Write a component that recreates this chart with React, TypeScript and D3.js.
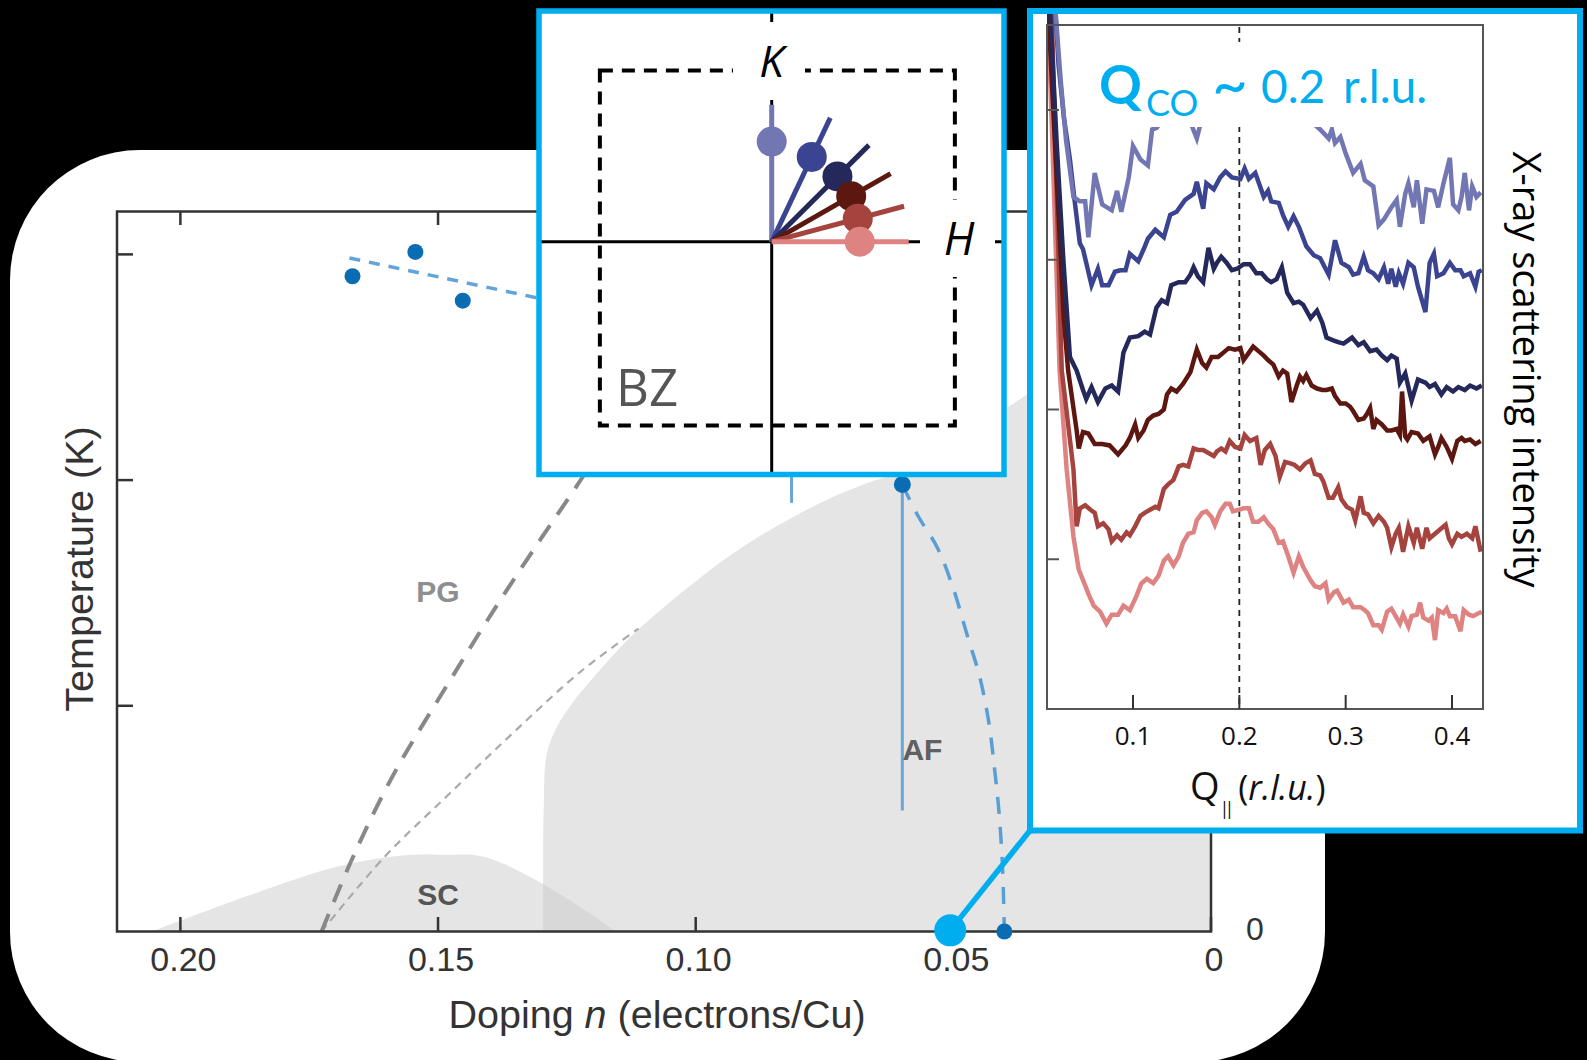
import React from 'react';
import * as d3 from 'd3';

type Pt = [number, number];

const W = 1587;
const H = 1060;

// ---------- phase diagram (doping n, temperature in K)
const dopingTicks = [0.2, 0.15, 0.1, 0.05, 0];
const dopingLabels = ['0.20', '0.15', '0.10', '0.05', '0'];
const tempTicks = [100, 200, 300];

const scDome: Pt[] = [[0.2055, 0], [0.1873, 15.5], [0.1691, 29], [0.157, 33.7], [0.1475, 34], [0.1423, 33.7], [0.1371, 29.8], [0.1267, 17.1], [0.1154, 0]];
const afRegion: Pt[] = [[0.1296, 0], [0.1296, 30], [0.1295, 54], [0.1289, 78.6], [0.1269, 90.7], [0.124, 101], [0.1191, 114.5], [0.1132, 129.3], [0.1073, 141.4], [0.1014, 152.6], [0.0945, 164.7], [0.0877, 175], [0.0808, 184], [0.0739, 192], [0.0671, 198.4], [0.0602, 203.8], [0.0494, 217.6], [0.0387, 233.4], [0.02, 262], [0, 290]];
const pgThick: Pt[] = [[0.1726, 0], [0.1665, 33], [0.1587, 69.3], [0.1483, 108.9], [0.1388, 143.7], [0.1301, 173.8], [0.1249, 191.2], [0.118, 215]];
const pgThin: Pt[] = [[0.1726, 0], [0.1604, 33], [0.1483, 59.9], [0.1353, 88.3], [0.1223, 115.2], [0.1111, 134.2]];
const highTDots: Pt[] = [[0.1666, 290.3], [0.1544, 301.1], [0.1452, 279.5]];
const highTFit: Pt[] = [[0.1672, 298.4], [0.1338, 282.2], [0.12, 275.5]];
const afDashed: Pt[] = [[0.0599, 198], [0.0569, 184.3], [0.0531, 170], [0.0501, 152.6], [0.0472, 130.4], [0.0449, 113], [0.0431, 92.4], [0.042, 71.9], [0.0412, 54.5], [0.0405, 30.7], [0.0401, 0]];
const afBar: Pt[] = [[0.0599, 198], [0.0599, 53.6]];
const hiddenBar: Pt[] = [[0.0814, 300], [0.0814, 189.9]];
const lowDot: Pt = [0.0401, 0];
const rixsDot: Pt = [0.0506, 0.5];
const regionNames = ['PG', 'SC', 'AF'];
const regionAt: Pt[] = [[0.15, 150.9], [0.15, 16.6], [0.056, 80.6]];
const regionColors = ['#8e8e8e', '#555555', '#606060'];

// ---------- Brillouin zone inset (r.l.u.)
const bzH: Pt = [-0.484, 0.516];
const bzK: Pt = [-0.518, 0.482];
const vecAngle = [90, 64.7, 44.8, 29.8, 15, 0];
const vecDot = [0.282, 0.264, 0.261, 0.258, 0.251, 0.248];
const vecEnd = 0.386;
const scanColors = ['#7276b3', '#3a4490', '#25285a', '#5c1810', '#a5443f', '#df8282'];

// ---------- RIXS spectra (Q r.l.u., offset intensity)
const qTicks = [0.1, 0.2, 0.3, 0.4];
const intensityTicks = [0, 1, 2, 3, 4];
const qCO = 0.2;

const scanLavender: Pt[] = [[0.027, 4.67], [0.032, 4.2], [0.037, 3.8], [0.044, 3.42], [0.05, 3.39], [0.055, 3.39], [0.058, 3.15], [0.064, 3.58], [0.071, 3.37], [0.08, 3.33], [0.085, 3.46], [0.089, 3.32], [0.096, 3.55], [0.1, 3.76], [0.107, 3.67], [0.114, 3.63], [0.118, 3.87], [0.122, 3.88], [0.13, 3.95], [0.14, 4.0], [0.15, 3.98], [0.155, 3.9], [0.16, 3.81], [0.165, 3.95], [0.18, 4.05], [0.2, 4.1], [0.22, 4.08], [0.24, 4.05], [0.26, 3.98], [0.271, 3.9], [0.276, 3.87], [0.284, 3.81], [0.287, 3.87], [0.29, 3.78], [0.295, 3.82], [0.3, 3.71], [0.307, 3.58], [0.314, 3.64], [0.318, 3.53], [0.326, 3.49], [0.331, 3.23], [0.336, 3.27], [0.343, 3.35], [0.348, 3.4], [0.351, 3.22], [0.356, 3.44], [0.359, 3.51], [0.364, 3.35], [0.367, 3.53], [0.372, 3.24], [0.376, 3.47], [0.383, 3.46], [0.387, 3.35], [0.392, 3.51], [0.398, 3.68], [0.401, 3.37], [0.406, 3.33], [0.409, 3.42], [0.412, 3.58], [0.416, 3.33], [0.419, 3.49], [0.423, 3.42], [0.427, 3.45]];
const scanBlue: Pt[] = [[0.025, 4.9], [0.03, 4.3], [0.035, 3.95], [0.0407, 3.67], [0.045, 3.4], [0.05, 3.11], [0.053, 3.07], [0.061, 2.83], [0.067, 2.94], [0.071, 2.83], [0.077, 2.83], [0.083, 2.92], [0.088, 2.93], [0.093, 2.93], [0.097, 3.04], [0.105, 2.99], [0.11, 3.07], [0.114, 3.14], [0.121, 3.2], [0.129, 3.15], [0.135, 3.3], [0.141, 3.32], [0.149, 3.4], [0.157, 3.44], [0.16, 3.52], [0.166, 3.34], [0.169, 3.51], [0.176, 3.47], [0.182, 3.55], [0.187, 3.59], [0.193, 3.55], [0.201, 3.54], [0.205, 3.61], [0.209, 3.54], [0.215, 3.58], [0.223, 3.42], [0.227, 3.46], [0.23, 3.39], [0.237, 3.38], [0.241, 3.3], [0.246, 3.22], [0.251, 3.29], [0.256, 3.22], [0.263, 3.09], [0.27, 3.03], [0.276, 3.01], [0.284, 2.9], [0.29, 3.13], [0.296, 2.98], [0.303, 2.95], [0.307, 2.9], [0.312, 2.91], [0.317, 3.02], [0.321, 2.93], [0.326, 2.91], [0.331, 2.87], [0.336, 2.95], [0.34, 2.84], [0.343, 2.94], [0.347, 2.82], [0.35, 2.91], [0.354, 2.84], [0.359, 2.98], [0.364, 2.95], [0.368, 2.82], [0.375, 2.65], [0.379, 2.98], [0.383, 3.04], [0.386, 2.89], [0.392, 2.91], [0.398, 2.98], [0.403, 2.93], [0.408, 2.93], [0.411, 2.89], [0.417, 2.91], [0.422, 2.82], [0.425, 2.92], [0.428, 2.93]];
const scanNavy: Pt[] = [[0.022, 4.67], [0.0282, 3.78], [0.0345, 3.0], [0.0407, 2.35], [0.047, 2.26], [0.053, 2.13], [0.056, 2.07], [0.061, 2.15], [0.067, 2.05], [0.074, 2.14], [0.08, 2.16], [0.086, 2.12], [0.091, 2.38], [0.097, 2.48], [0.105, 2.49], [0.111, 2.52], [0.116, 2.5], [0.122, 2.68], [0.127, 2.73], [0.132, 2.71], [0.136, 2.83], [0.143, 2.85], [0.149, 2.85], [0.154, 2.9], [0.157, 2.95], [0.161, 2.89], [0.166, 2.85], [0.171, 3.08], [0.176, 2.94], [0.179, 2.98], [0.183, 3.02], [0.188, 2.98], [0.193, 2.93], [0.198, 2.94], [0.204, 2.97], [0.21, 2.97], [0.216, 2.91], [0.221, 2.91], [0.226, 2.87], [0.23, 2.85], [0.235, 2.87], [0.24, 2.95], [0.245, 2.78], [0.251, 2.71], [0.256, 2.72], [0.26, 2.7], [0.267, 2.61], [0.273, 2.66], [0.278, 2.58], [0.282, 2.48], [0.289, 2.46], [0.293, 2.45], [0.298, 2.44], [0.306, 2.48], [0.312, 2.43], [0.317, 2.45], [0.323, 2.39], [0.329, 2.4], [0.334, 2.36], [0.339, 2.33], [0.343, 2.36], [0.348, 2.34], [0.351, 2.18], [0.356, 2.24], [0.362, 2.06], [0.368, 2.2], [0.375, 2.18], [0.379, 2.15], [0.384, 2.17], [0.39, 2.1], [0.395, 2.15], [0.401, 2.12], [0.406, 2.15], [0.412, 2.13], [0.417, 2.16], [0.423, 2.14], [0.428, 2.16]];
const scanDarkRed: Pt[] = [[0.0203, 4.67], [0.0298, 3.33], [0.035, 2.6], [0.039, 2.26], [0.047, 1.86], [0.049, 1.74], [0.053, 1.85], [0.058, 1.84], [0.064, 1.77], [0.071, 1.77], [0.078, 1.76], [0.086, 1.7], [0.093, 1.76], [0.097, 1.81], [0.102, 1.9], [0.105, 1.81], [0.11, 1.86], [0.114, 1.93], [0.119, 1.96], [0.124, 1.97], [0.129, 2.0], [0.132, 2.1], [0.136, 2.14], [0.141, 2.12], [0.147, 2.17], [0.154, 2.25], [0.16, 2.4], [0.165, 2.31], [0.169, 2.28], [0.174, 2.35], [0.18, 2.35], [0.185, 2.38], [0.19, 2.41], [0.196, 2.4], [0.201, 2.41], [0.204, 2.33], [0.209, 2.38], [0.213, 2.42], [0.218, 2.39], [0.223, 2.36], [0.227, 2.33], [0.232, 2.3], [0.237, 2.22], [0.241, 2.26], [0.245, 2.24], [0.249, 2.05], [0.254, 2.16], [0.257, 2.22], [0.26, 2.19], [0.263, 2.23], [0.268, 2.16], [0.273, 2.14], [0.278, 2.13], [0.282, 2.13], [0.287, 2.14], [0.29, 2.09], [0.295, 2.04], [0.3, 2.04], [0.304, 2.02], [0.307, 1.99], [0.312, 1.93], [0.317, 1.94], [0.32, 1.97], [0.323, 2.01], [0.326, 1.87], [0.329, 1.93], [0.334, 1.9], [0.339, 1.86], [0.343, 1.86], [0.348, 1.87], [0.351, 1.83], [0.353, 2.12], [0.356, 1.82], [0.358, 1.8], [0.362, 1.85], [0.368, 1.84], [0.373, 1.79], [0.379, 1.82], [0.384, 1.7], [0.387, 1.75], [0.39, 1.81], [0.395, 1.75], [0.4, 1.67], [0.405, 1.79], [0.409, 1.81], [0.412, 1.79], [0.417, 1.8], [0.422, 1.77], [0.427, 1.79]];
const scanRed: Pt[] = [[0.0235, 4.67], [0.028, 3.5], [0.033, 2.26], [0.039, 1.9], [0.044, 1.6], [0.047, 1.22], [0.05, 1.34], [0.055, 1.36], [0.06, 1.33], [0.064, 1.31], [0.067, 1.22], [0.072, 1.24], [0.077, 1.2], [0.08, 1.12], [0.085, 1.16], [0.089, 1.13], [0.094, 1.18], [0.097, 1.16], [0.102, 1.22], [0.107, 1.29], [0.111, 1.31], [0.116, 1.33], [0.121, 1.35], [0.124, 1.34], [0.129, 1.47], [0.133, 1.5], [0.138, 1.53], [0.143, 1.62], [0.147, 1.63], [0.152, 1.62], [0.157, 1.74], [0.161, 1.73], [0.166, 1.73], [0.171, 1.71], [0.176, 1.69], [0.179, 1.72], [0.183, 1.74], [0.187, 1.72], [0.191, 1.79], [0.196, 1.75], [0.201, 1.74], [0.205, 1.83], [0.21, 1.79], [0.216, 1.81], [0.22, 1.63], [0.224, 1.73], [0.229, 1.77], [0.234, 1.69], [0.238, 1.55], [0.243, 1.65], [0.248, 1.64], [0.252, 1.63], [0.257, 1.6], [0.262, 1.64], [0.267, 1.66], [0.271, 1.57], [0.276, 1.56], [0.279, 1.52], [0.284, 1.41], [0.288, 1.41], [0.293, 1.48], [0.296, 1.4], [0.301, 1.35], [0.306, 1.33], [0.309, 1.26], [0.314, 1.42], [0.317, 1.31], [0.321, 1.3], [0.326, 1.24], [0.331, 1.29], [0.336, 1.25], [0.339, 1.21], [0.343, 1.08], [0.347, 1.17], [0.35, 1.21], [0.354, 1.05], [0.359, 1.22], [0.364, 1.11], [0.367, 1.21], [0.372, 1.07], [0.376, 1.21], [0.379, 1.14], [0.384, 1.17], [0.389, 1.2], [0.394, 1.23], [0.397, 1.14], [0.4, 1.1], [0.405, 1.17], [0.409, 1.15], [0.414, 1.17], [0.419, 1.14], [0.422, 1.22], [0.427, 1.05]];
const scanPink: Pt[] = [[0.02, 4.67], [0.025, 3.6], [0.031, 2.26], [0.0376, 1.6], [0.044, 1.15], [0.049, 0.93], [0.053, 0.86], [0.058, 0.77], [0.063, 0.69], [0.069, 0.65], [0.075, 0.57], [0.08, 0.63], [0.086, 0.63], [0.091, 0.69], [0.097, 0.66], [0.103, 0.75], [0.108, 0.84], [0.113, 0.87], [0.119, 0.84], [0.124, 0.89], [0.129, 0.99], [0.133, 1.02], [0.138, 0.96], [0.143, 1.02], [0.147, 1.11], [0.152, 1.17], [0.157, 1.18], [0.16, 1.26], [0.165, 1.31], [0.169, 1.32], [0.174, 1.28], [0.177, 1.23], [0.182, 1.32], [0.187, 1.37], [0.191, 1.37], [0.194, 1.32], [0.199, 1.33], [0.204, 1.34], [0.209, 1.34], [0.213, 1.25], [0.218, 1.25], [0.223, 1.28], [0.227, 1.24], [0.232, 1.2], [0.237, 1.11], [0.241, 1.12], [0.246, 1.02], [0.251, 0.91], [0.256, 1.02], [0.26, 0.95], [0.267, 0.86], [0.271, 0.82], [0.276, 0.81], [0.281, 0.84], [0.284, 0.73], [0.289, 0.78], [0.292, 0.79], [0.298, 0.71], [0.303, 0.73], [0.307, 0.68], [0.314, 0.68], [0.318, 0.66], [0.321, 0.64], [0.326, 0.56], [0.331, 0.56], [0.334, 0.53], [0.339, 0.65], [0.343, 0.67], [0.347, 0.62], [0.351, 0.57], [0.354, 0.63], [0.359, 0.55], [0.362, 0.62], [0.367, 0.63], [0.37, 0.71], [0.373, 0.61], [0.378, 0.59], [0.381, 0.61], [0.384, 0.46], [0.387, 0.66], [0.392, 0.64], [0.395, 0.67], [0.398, 0.62], [0.403, 0.62], [0.408, 0.52], [0.411, 0.66], [0.416, 0.63], [0.42, 0.62], [0.425, 0.64], [0.428, 0.65]];

// drawn bottom to top
const scans = [scanPink, scanRed, scanDarkRed, scanNavy, scanBlue, scanLavender];
const scansColors = ['#df8282', '#a5443f', '#5c1810', '#25285a', '#3a4490', '#7276b3'];

const CYAN = '#00aeef';
const MAIN_FONT = '"Liberation Sans", Arial, sans-serif';
const INSET_FONT = '"Open Sans", "DejaVu Sans", sans-serif';

export default function App() {
  // main phase diagram scales
  const x = d3.scaleLinear().domain([0.2123, 0]).range([117, 1211]);
  const y = d3.scaleLinear().domain([0, 319]).range([931.5, 211.5]);
  const straight = d3.line<Pt>().x(d => x(d[0])).y(d => y(d[1]));
  const smooth = d3.line<Pt>().x(d => x(d[0])).y(d => y(d[1])).curve(d3.curveCatmullRom.alpha(0.5));

  const scPath = smooth(scDome) + 'Z';
  const afPath = smooth(afRegion) + `L${x(0)},${y(0)}Z`;

  // BZ inset scales
  const hS = d3.scaleLinear().domain([-0.5, 0.5]).range([594.2, 949.2]);
  const kS = d3.scaleLinear().domain([-0.5, 0.5]).range([419.2, 64.2]);
  const ox = hS(0);
  const oy = kS(0);

  // spectra inset scales
  const xQ = d3.scaleLinear().domain([0.1, 0.4]).range([1133, 1452]);
  const yI = d3.scaleLinear().domain([0, 4]).range([709, 110]);
  const scanLine = d3.line<Pt>().x(d => xQ(d[0])).y(d => yI(d[1]));
  const qLeft = 1047, qRight = 1483, qTop = 25, qBottom = 709;

  return (
    <div style={{ position: 'absolute', left: 0, top: 0, width: W, height: H }}>
      <svg width={W} height={H} style={{ display: 'block' }}>
        <defs>
          <clipPath id="plotClip">
            <rect x={117} y={211.5} width={1094} height={720} />
          </clipPath>
          <clipPath id="afClip">
            <path d={afPath} />
          </clipPath>
          <clipPath id="scanClip">
            <rect x={qLeft} y={14} width={qRight - qLeft} height={qBottom - 14} />
          </clipPath>
        </defs>

        <rect x={0} y={0} width={W} height={H} fill="#000" />
        <rect x={10} y={150} width={1315} height={912} rx={130} ry={130} fill="#fff" />

        {/* phase regions */}
        <g clipPath="url(#plotClip)">
          <path d={afPath} fill="#e5e5e5" />
          <path d={scPath} fill="#e5e5e5" />
          <path d={scPath} fill="#d8d8d8" clipPath="url(#afClip)" />
          <path d={smooth(pgThin) || ''} fill="none" stroke="#aaaaaa" strokeWidth={2.2} strokeDasharray="8,6" />
          <path d={smooth(pgThick) || ''} fill="none" stroke="#888888" strokeWidth={4} strokeDasharray="19,13" />
          <path d={straight(highTFit) || ''} fill="none" stroke="#62a3d9" strokeWidth={3.5} strokeDasharray="11,9" />
          <path d={straight(hiddenBar) || ''} fill="none" stroke="#6aa6d8" strokeWidth={3} />
          <path d={straight(afBar) || ''} fill="none" stroke="#6aa6d8" strokeWidth={3} />
          <path d={smooth(afDashed) || ''} fill="none" stroke="#5a9fd4" strokeWidth={3.5} strokeDasharray="17,13" />
        </g>

        {regionNames.map((t, i) => (
          <text key={t} x={x(regionAt[i][0])} y={y(regionAt[i][1])} dy="0.36em" textAnchor="middle"
            fontFamily={MAIN_FONT} fontWeight={700} fontSize={30} fill={regionColors[i]}>{t}</text>
        ))}

        {/* axes frame and ticks */}
        <rect x={117} y={211.5} width={1094} height={720} fill="none" stroke="#333" strokeWidth={2.5} />
        {dopingTicks.map(t => (
          <g key={'b' + t}>
            <line x1={x(t)} x2={x(t)} y1={931.5} y2={917} stroke="#333" strokeWidth={2.5} />
            <line x1={x(t)} x2={x(t)} y1={211.5} y2={225} stroke="#333" strokeWidth={2.5} />
          </g>
        ))}
        {tempTicks.map(t => (
          <line key={'l' + t} x1={117} x2={133} y1={y(t)} y2={y(t)} stroke="#333" strokeWidth={2.5} />
        ))}
        {dopingTicks.map((t, i) => (
          <text key={'tl' + t} x={x(t) + 3} y={971} textAnchor="middle" fontFamily={MAIN_FONT} fontSize={34} fill="#333">
            {dopingLabels[i]}
          </text>
        ))}
        <text x={1255} y={940} textAnchor="middle" fontFamily={MAIN_FONT} fontSize={32} fill="#333">0</text>
        <text x={657} y={1028} textAnchor="middle" fontFamily={MAIN_FONT} fontSize={39.5} fill="#333">
          Doping <tspan fontStyle="italic">n</tspan> (electrons/Cu)
        </text>
        <text transform="translate(93,569) rotate(-90)" textAnchor="middle" fontFamily={MAIN_FONT} fontSize={39.5} fill="#333">
          Temperature (K)
        </text>

        {/* data points */}
        {highTDots.map((d, i) => (
          <circle key={'h' + i} cx={x(d[0])} cy={y(d[1])} r={8} fill="#0a6db3" />
        ))}
        <circle cx={x(afBar[0][0])} cy={y(afBar[0][1])} r={8.5} fill="#0a6db3" />
        <circle cx={x(lowDot[0])} cy={y(lowDot[1])} r={8} fill="#0a6db3" />

        {/* connector to spectra */}
        <line x1={x(rixsDot[0])} y1={y(rixsDot[1])} x2={1030} y2={830.5} stroke={CYAN} strokeWidth={5.5} />
        <circle cx={x(rixsDot[0])} cy={y(rixsDot[1])} r={16} fill={CYAN} />

        {/* Brillouin zone inset */}
        <rect x={539} y={11} width={465} height={463.5} fill="#fff" />
        <rect x={hS(bzH[0])} y={kS(bzK[1])} width={hS(bzH[1]) - hS(bzH[0])} height={kS(bzK[0]) - kS(bzK[1])}
          fill="none" stroke="#000" strokeWidth={4} strokeDasharray="13,9" />
        <line x1={539} x2={1004} y1={oy} y2={oy} stroke="#000" strokeWidth={3} />
        <line x1={ox} x2={ox} y1={11} y2={474.5} stroke="#000" strokeWidth={3} />
        <rect x={733} y={22} width={72} height={78} fill="#fff" />
        <rect x={920} y={200} width={75} height={77} fill="#fff" />
        <text x={ox} y={77} textAnchor="middle" fontFamily={INSET_FONT} fontStyle="italic" fontSize={44} fill="#000">K</text>
        <text x={959} y={255} textAnchor="middle" fontFamily={INSET_FONT} fontStyle="italic" fontSize={45} fill="#000">H</text>
        <text x={616} y={406} fontFamily={INSET_FONT} fontSize={51} fill="#555">BZ</text>
        {vecAngle.map((a, i) => {
          const r = (a * Math.PI) / 180;
          return (
            <g key={'v' + i}>
              <line x1={ox} y1={oy} x2={hS(vecEnd * Math.cos(r))} y2={kS(vecEnd * Math.sin(r))}
                stroke={scanColors[i]} strokeWidth={5} />
              <circle cx={hS(vecDot[i] * Math.cos(r))} cy={kS(vecDot[i] * Math.sin(r))} r={15} fill={scanColors[i]} />
            </g>
          );
        })}
        <rect x={539} y={11} width={465} height={463.5} fill="none" stroke={CYAN} strokeWidth={5.5} />

        {/* spectra inset */}
        <rect x={1030} y={11} width={550} height={819.5} fill="#fff" />
        <line x1={xQ(qCO)} x2={xQ(qCO)} y1={27} y2={qBottom} stroke="#222" strokeWidth={1.8} strokeDasharray="6,5" />
        <g clipPath="url(#scanClip)">
          {scans.map((s, i) => (
            <path key={'s' + i} d={scanLine(s) || ''} fill="none" stroke={scansColors[i]} strokeWidth={4.5} />
          ))}
        </g>
        <rect x={1085} y={42} width={355} height={85} fill="#fff" />
        <text fontFamily='Lato, "Open Sans", sans-serif' fill={CYAN}>
          <tspan x={1099} y={104} fontWeight={700} fontSize={53}>Q</tspan>
          <tspan x={1146} y={116} fontSize={36}>CO</tspan>
          <tspan x={1212} y={106} fontSize={62}>~</tspan>
          <tspan x={1261} y={103} fontSize={46}>0.2</tspan>
          <tspan x={1343} y={103} fontSize={46}>r.l.u.</tspan>
        </text>
        <rect x={qLeft} y={qTop} width={qRight - qLeft} height={qBottom - qTop} fill="none" stroke="#555" strokeWidth={2} />
        {intensityTicks.map(t => (
          <line key={'it' + t} x1={qLeft} x2={qLeft + 12} y1={yI(t)} y2={yI(t)} stroke="#555" strokeWidth={2} />
        ))}
        {qTicks.map(t => (
          <g key={'qt' + t}>
            <line x1={xQ(t)} x2={xQ(t)} y1={qBottom} y2={qBottom - 14} stroke="#333" strokeWidth={2} />
            <text x={xQ(t)} y={745} textAnchor="middle" fontFamily={INSET_FONT} fontSize={26} fill="#111">{t.toFixed(1)}</text>
          </g>
        ))}
        <text x={1190} y={800} fontFamily={INSET_FONT} fontSize={38} fill="#111">
          Q<tspan fontSize={18} dy={15} letterSpacing={-5}>||</tspan>
          <tspan dy={-15} fontSize={34}> (</tspan><tspan fontSize={34} fontStyle="italic">r.l.u.</tspan><tspan fontSize={34}>)</tspan>
        </text>
        <text transform="translate(1513,369.5) rotate(90)" textAnchor="middle" fontFamily={INSET_FONT} fontSize={38} fill="#000">
          X-ray scattering intensity
        </text>
        <rect x={1030} y={11} width={550} height={819.5} fill="none" stroke={CYAN} strokeWidth={6} />
      </svg>
    </div>
  );
}
